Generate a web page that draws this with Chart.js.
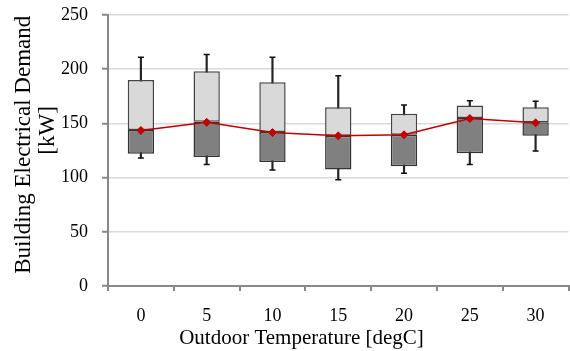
<!DOCTYPE html>
<html>
<head>
<meta charset="utf-8">
<script src="https://cdn.jsdelivr.net/npm/chart.js@4/dist/chart.umd.min.js"></script>
<style>
  html, body { margin: 0; padding: 0; background: #fff; overflow: hidden; width: 570px; height: 351px; }
  #wrap { width: 574px; height: 351px; }
</style>
</head>
<body>
<div id="wrap"><canvas id="c" width="574" height="351"></canvas></div>
<script>
const categories = ['0', '5', '10', '15', '20', '25', '30'];
const whiskerMin = [118, 112, 107, 98, 104, 112, 124.5];
const q1 = [122, 119, 114.5, 107.5, 110.5, 122.5, 138.5];
const median = [144, 151.5, 142, 138.5, 139.5, 155, 151];
const q3 = [190, 198, 188, 165, 159, 166.5, 165];
const whiskerMax = [211, 213.5, 211, 194, 167, 171, 170.5];
const mean = [143.5, 151, 141.5, 138.5, 139.5, 154.5, 150.5];
const yTicks = [0, 50, 100, 150, 200, 250];

const lowerBox = categories.map((c, i) => [q1[i], median[i]]);
const upperBox = categories.map((c, i) => [median[i], q3[i]]);
const whisker = categories.map((c, i) => [whiskerMin[i], whiskerMax[i]]);

const serif = "'Liberation Serif', 'Times New Roman', serif";

new Chart(document.getElementById('c'), {
  type: 'bar',
  data: {
    labels: categories,
    datasets: [
      { type: 'bar', data: whisker, backgroundColor: '#222', borderWidth: 0, barThickness: 1.5, grouped: false, order: 4 },
      { type: 'bar', data: lowerBox, backgroundColor: '#808080', borderColor: '#333', borderWidth: 1.5, borderSkipped: false, barPercentage: 0.4, categoryPercentage: 1, grouped: false, order: 3 },
      { type: 'bar', data: upperBox, backgroundColor: '#d9d9d9', borderColor: '#444', borderWidth: 1.5, borderSkipped: false, barPercentage: 0.4, categoryPercentage: 1, grouped: false, order: 3 },
      { type: 'line', data: whiskerMin, showLine: false, pointStyle: 'line', pointRadius: 3, borderColor: '#111', borderWidth: 1.5, order: 2 },
      { type: 'line', data: whiskerMax, showLine: false, pointStyle: 'line', pointRadius: 3, borderColor: '#111', borderWidth: 1.5, order: 2 },
      { type: 'line', data: mean, borderColor: '#c00000', backgroundColor: '#c00000', borderWidth: 1.5, pointStyle: 'rectRot', pointRadius: 4, pointBorderWidth: 1, tension: 0, order: 1 }
    ]
  },
  options: {
    responsive: false,
    animation: false,
    layout: { padding: { top: 15, right: 0, left: 0, bottom: 0 } },
    plugins: { legend: { display: false }, tooltip: { enabled: false } },
    scales: {
      x: {
        type: 'category',
        offset: true,
        grid: { offset: true, drawOnChartArea: false, drawTicks: true, tickLength: 5, color: '#888', lineWidth: 2 },
        border: { display: true, color: '#888', width: 2 },
        ticks: { padding: 14, color: '#000', font: { family: serif, size: 18 } },
        title: { display: true, text: 'Outdoor Temperature [degC]              ', color: '#000', font: { family: serif, size: 21 }, padding: { top: 0, bottom: 0 } },
        afterFit: (s) => { s.height = 65; s.paddingLeft = 0; s.paddingRight = 0; }
      },
      y: {
        min: 0, max: 250,
        afterBuildTicks: (s) => { s.ticks = yTicks.map(v => ({ value: v })); },
        grid: { color: '#d9d9d9', lineWidth: 1.5, tickLength: 6, tickColor: '#888', tickWidth: 2 },
        border: { display: true, color: '#888', width: 2 },
        ticks: { padding: 14, color: '#000', font: { family: serif, size: 18 } },
        title: { display: true, text: ['  Building Electrical Demand', '       [kW]'], color: '#000', font: { family: serif, size: 23, lineHeight: 1.05 }, padding: { top: 12, bottom: 0 } },
        afterFit: (s) => { s.width = 108; s.paddingTop = 0; s.paddingBottom = 0; }
      }
    }
  }
});
</script>
</body>
</html>
